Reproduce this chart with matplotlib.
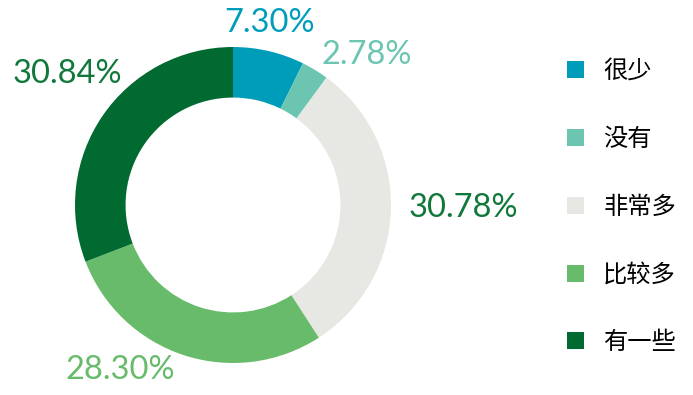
import matplotlib.pyplot as plt

plt.rcParams['font.family'] = ['Noto Sans CJK SC', 'DejaVu Sans']

categories = ['很少', '没有', '非常多', '比较多', '有一些']
values = [7.30, 2.78, 30.78, 28.30, 30.84]
colors = ['#009dbb', '#6cc5b1', '#e7e7e3', '#68bb6a', '#006a31']
label_colors = ['#009dbb', '#6cc5b1', '#10783a', '#68bb6a', '#10783a']
# label centres in figure pixels (x, y from top)
label_pos = [(270, 23), (367, 55), (463, 208), (120, 370), (67, 74)]

W, H = 693, 395
fig = plt.figure(figsize=(W / 100, H / 100), dpi=100)

# donut centre (233, 205), outer radius 158 px
cx, cy, r = 233, 205, 158
ax = fig.add_axes([(cx - r) / W, (H - cy - r) / H, 2 * r / W, 2 * r / H])
wedges, _ = ax.pie(values, colors=colors, startangle=90, counterclock=False,
                   radius=1, wedgeprops=dict(width=0.32, linewidth=0))
ax.set_xlim(-1, 1)
ax.set_ylim(-1, 1)
ax.set_aspect('equal')
ax.axis('off')

for v, c, (px, py) in zip(values, label_colors, label_pos):
    fig.text(px / W, 1 - py / H, f'{v:.2f}%', color=c, fontsize=23.5,
             ha='center', va='center', family=['Lato', 'DejaVu Sans'])

fig.legend(wedges, categories, loc='upper left',
           bbox_to_anchor=(555 / W, 1 - 46 / H), frameon=False,
           fontsize=17.5, handlelength=0.7, handleheight=0.7,
           handletextpad=0.78, labelspacing=1.72, borderpad=0)

fig.savefig('out.png', dpi=100)
